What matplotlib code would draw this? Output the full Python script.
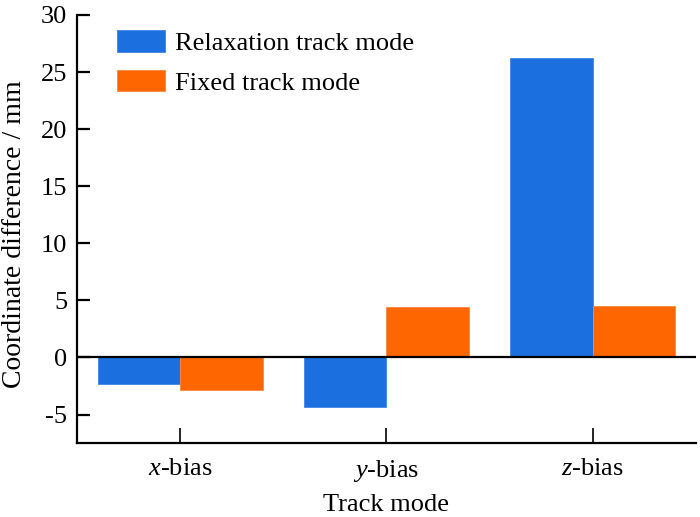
import matplotlib
matplotlib.use("Agg")
import matplotlib.pyplot as plt
import numpy as np

categories = ["$\\mathit{x}$-bias", "$\\mathit{y}$-bias", "$\\mathit{z}$-bias"]
relaxation = [-2.33, -4.3, 26.2]
fixed = [-2.83, 4.4, 4.55]
series_names = ["Relaxation track mode", "Fixed track mode"]
yticks = [-5, 0, 5, 10, 15, 20, 25, 30]
ytick_labels = ["-5", "0", "5", "10", "15", "20", "25", "30"]

plt.rcParams['font.family'] = ['Liberation Serif', 'DejaVu Serif']
plt.rcParams['mathtext.fontset'] = 'custom'
plt.rcParams['mathtext.rm'] = 'Liberation Serif'
plt.rcParams['mathtext.it'] = 'Liberation Serif:italic'

FS = 19

fig = plt.figure(figsize=(7, 5.17), dpi=100)
ax = fig.add_axes([0.11, 0.143, 0.884, 0.828])

x = np.arange(len(categories))
w = 0.4
blue = "#1B6FDE"
orange = "#FD6600"
ax.bar(x - w/2, relaxation, w, color=blue, edgecolor="#3F86E6", linewidth=0.6, label=series_names[0])
ax.bar(x + w/2, fixed, w, color=orange, edgecolor="#FE8840", linewidth=0.6, label=series_names[1])
ax.axhline(0, color="black", lw=1.6, zorder=3)

ax.set_xlim(-0.5, 2.5)
ax.set_ylim(-7.5, 30)
ax.set_xticks(x)
ax.set_xticklabels(categories)
ax.set_yticks(yticks)
ax.set_yticklabels(ytick_labels)

for s in ["top", "right"]:
    ax.spines[s].set_visible(False)
for s in ["left", "bottom"]:
    ax.spines[s].set_linewidth(1.6)

ax.tick_params(axis='y', direction='in', length=9, width=1.6, labelsize=FS, pad=7)
ax.tick_params(axis='x', direction='in', length=11, width=1.2, labelsize=FS, pad=11)

ax.set_xlabel("Track mode", fontsize=FS, labelpad=7)
ax.set_ylabel("Coordinate difference / mm", fontsize=20)
ax.yaxis.set_label_coords(-0.08, 0.488)

ax.legend(loc="upper left", frameon=False, fontsize=FS, handlelength=1.8, handleheight=0.87,
          handletextpad=0.38, labelspacing=0.55, borderaxespad=0.3, bbox_to_anchor=(0.035, 1.007))

fig.savefig("out.png", dpi=100)
